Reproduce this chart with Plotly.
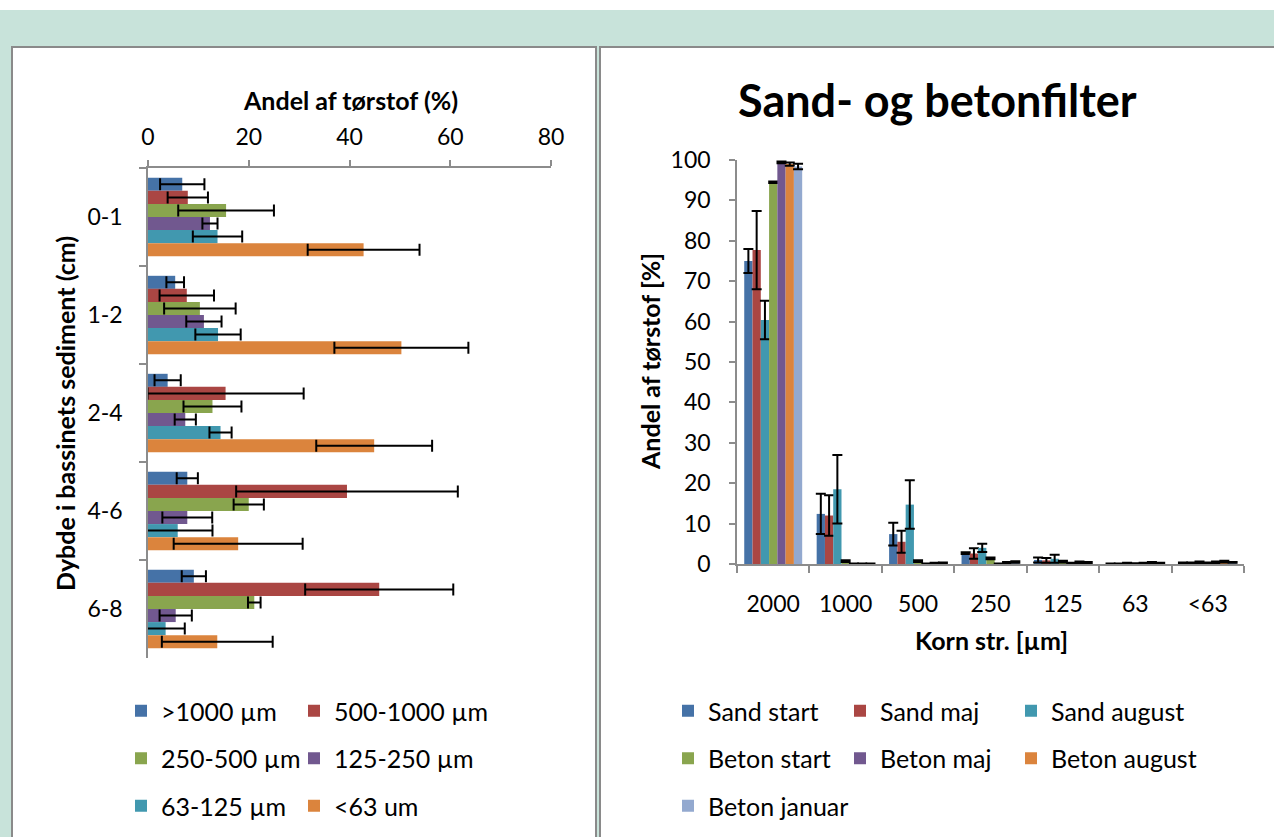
import plotly.graph_objects as go

W, H = 1274, 837

# ---------------- data: left chart (depth profile) ----------------
depths = ["0-1", "1-2", "2-4", "4-6", "6-8"]
size_classes = [">1000 µm", "500-1000 µm", "250-500 µm", "125-250 µm", "63-125 µm", "<63 um"]
v_gt1000 = [6.8, 5.4, 3.9, 7.8, 9.1]
e_gt1000 = [4.4, 1.75, 2.6, 2.1, 2.4]
v_500_1000 = [7.9, 7.7, 15.4, 39.5, 45.9]
e_500_1000 = [4.0, 5.4, 15.5, 22.0, 14.7]
v_250_500 = [15.5, 10.3, 12.8, 20.0, 21.1]
e_250_500 = [9.5, 7.1, 5.75, 3.0, 1.25]
v_125_250 = [12.3, 11.1, 7.4, 7.8, 5.5]
e_125_250 = [1.5, 3.5, 2.1, 4.95, 3.2]
v_63_125 = [13.8, 13.9, 14.4, 5.9, 3.5]
e_63_125 = [4.9, 4.5, 2.2, 6.9, 3.8]
v_lt63 = [42.8, 50.3, 44.9, 17.9, 13.75]
e_lt63 = [11.1, 13.3, 11.5, 12.8, 11.0]
left_x_ticks = [0, 20, 40, 60, 80]

# ---------------- data: right chart (sand & concrete filter) ----------------
grain = ["2000", "1000", "500", "250", "125", "63", "<63"]
series_names = ["Sand start", "Sand maj", "Sand august", "Beton start", "Beton maj", "Beton august", "Beton januar"]
sand_start = [75.0, 12.4, 7.4, 2.7, 1.0, 0.1, 0.3]
sand_start_e = [3.0, 5.0, 2.8, 0.2, 0.6, 0.05, 0.1]
sand_maj = [77.7, 12.0, 5.5, 2.6, 0.9, 0.1, 0.3]
sand_maj_e = [9.7, 5.0, 2.7, 1.3, 0.6, 0.05, 0.1]
sand_aug = [60.4, 18.5, 14.7, 4.0, 1.3, 0.2, 0.4]
sand_aug_e = [4.75, 8.5, 6.0, 1.0, 1.0, 0.1, 0.2]
beton_start = [94.5, 0.7, 0.7, 1.4, 0.6, 0.1, 0.3]
beton_start_e = [0.2, 0.2, 0.2, 0.2, 0.2, 0.1, 0.1]
beton_maj = [99.4, 0.1, 0.1, 0.1, 0.2, 0.2, 0.4]
beton_maj_e = [0.2, 0.05, 0.05, 0.05, 0.1, 0.1, 0.2]
beton_aug = [99.0, 0.1, 0.2, 0.3, 0.4, 0.3, 0.6]
beton_aug_e = [0.4, 0.05, 0.1, 0.2, 0.2, 0.2, 0.2]
beton_jan = [98.4, 0.1, 0.3, 0.5, 0.3, 0.2, 0.4]
beton_jan_e = [0.7, 0.05, 0.1, 0.2, 0.2, 0.1, 0.1]
right_y_ticks = list(range(0, 101, 10))

# ---------------- styling ----------------
FONT = "Lato"
C_BLUE, C_RED, C_GREEN, C_PURPLE, C_TEAL, C_ORANGE, C_LBLUE = (
    "#4572A7", "#AA4643", "#89A54E", "#71588F", "#4198AF", "#DB843D", "#93A9CF")
AX = "#8c8c8c"


def px_x(p):
    return p / W


def px_y(p):
    return 1 - p / H


fig = go.Figure()

left_vals = [v_gt1000, v_500_1000, v_250_500, v_125_250, v_63_125, v_lt63]
left_errs = [e_gt1000, e_500_1000, e_250_500, e_125_250, e_63_125, e_lt63]
left_cols = [C_BLUE, C_RED, C_GREEN, C_PURPLE, C_TEAL, C_ORANGE]
# legend columns: left chart has 2 columns
left_leg = ["legend", "legend2", "legend", "legend2", "legend", "legend2"]
for i, (name, v, e, c, lg) in enumerate(zip(size_classes, left_vals, left_errs, left_cols, left_leg)):
    fig.add_trace(go.Bar(
        y=depths, x=v, orientation="h", name=name, marker=dict(color=c, line=dict(width=0)),
        error_x=dict(type="data", array=e, symmetric=True, color="black", thickness=2, width=6),
        xaxis="x", yaxis="y", legend=lg, legendgroup=f"L{i}"))

right_vals = [sand_start, sand_maj, sand_aug, beton_start, beton_maj, beton_aug, beton_jan]
right_errs = [sand_start_e, sand_maj_e, sand_aug_e, beton_start_e, beton_maj_e, beton_aug_e, beton_jan_e]
right_cols = [C_BLUE, C_RED, C_TEAL, C_GREEN, C_PURPLE, C_ORANGE, C_LBLUE]
# right chart has 3 columns
right_leg = ["legend3", "legend4", "legend5", "legend3", "legend4", "legend5", "legend3"]
for i, (name, v, e, c, lg) in enumerate(zip(series_names, right_vals, right_errs, right_cols, right_leg)):
    fig.add_trace(go.Bar(
        x=grain, y=v, name=name, marker=dict(color=c, line=dict(width=0)),
        error_y=dict(type="data", array=e, symmetric=True, color="black", thickness=2, width=5),
        xaxis="x2", yaxis="y2", legend=lg, legendgroup=f"R{i}"))

tickfont = dict(family=FONT, size=23, color="black")
title_font = dict(family=FONT, size=25, color="black")

LEG_TOP = 712 - 24
legend_common = dict(orientation="v", xanchor="left", yanchor="top", y=px_y(LEG_TOP),
                     font=dict(family=FONT, size=25, color="black"),
                     bgcolor="rgba(0,0,0,0)", traceorder="grouped", tracegroupgap=12,
                     itemclick=False, itemdoubleclick=False)


def ann(text, x, y, font, angle=0):
    return dict(text=text, x=px_x(x), y=px_y(y), xref="paper", yref="paper",
                xanchor="center", yanchor="middle", showarrow=False, textangle=angle,
                font=font)


fig.update_layout(
    width=W, height=H, autosize=False,
    margin=dict(l=0, r=0, t=0, b=0, pad=0, autoexpand=False),
    paper_bgcolor="#C8E3DA", plot_bgcolor="rgba(0,0,0,0)",
    font=dict(family=FONT, color="black"),
    barmode="group",
    bargap=0.2, bargroupgap=0,
    xaxis=dict(domain=[px_x(148), px_x(551)], anchor="y", side="top", range=[0, 80],
               tickvals=left_x_ticks, showgrid=False, zeroline=False, showline=True,
               linecolor=AX, linewidth=1.5, ticks="outside", ticklen=6, tickcolor=AX,
               tickwidth=1.5, tickfont=tickfont, ticklabelstandoff=6, fixedrange=True),
    yaxis=dict(domain=[px_y(658), px_y(168)], anchor="x", type="category",
               autorange="reversed", showgrid=False, zeroline=False, showline=True,
               linecolor=AX, linewidth=1.5, ticks="outside", ticklen=7, tickcolor=AX,
               tickwidth=1.5, tickson="boundaries", tickfont=tickfont,
               ticklabelstandoff=19, fixedrange=True),
    xaxis2=dict(domain=[px_x(737), px_x(1244)], anchor="y2", type="category",
                showgrid=False, zeroline=False, showline=True, linecolor=AX, linewidth=1.5,
                ticks="outside", ticklen=7, tickcolor=AX, tickwidth=1.5,
                tickson="boundaries", tickfont=tickfont, ticklabelstandoff=19, fixedrange=True),
    yaxis2=dict(domain=[px_y(564), px_y(160)], anchor="x2", range=[0, 100],
                tickvals=right_y_ticks, showgrid=False, zeroline=False, showline=True,
                linecolor=AX, linewidth=1.5, ticks="outside", ticklen=6, tickcolor=AX,
                tickwidth=1.5, tickfont=tickfont, ticklabelstandoff=14, fixedrange=True),
    legend=dict(legend_common, x=px_x(121)),
    legend2=dict(legend_common, x=px_x(294)),
    legend3=dict(legend_common, x=px_x(668)),
    legend4=dict(legend_common, x=px_x(840)),
    legend5=dict(legend_common, x=px_x(1011)),
    shapes=[
        dict(type="rect", xref="paper", yref="paper", x0=0, x1=1, y0=px_y(10), y1=1.01,
             fillcolor="white", line=dict(width=0), layer="below"),
        dict(type="rect", xref="paper", yref="paper", x0=px_x(12), x1=px_x(596),
             y0=-0.02, y1=px_y(47), fillcolor="white", line=dict(color="#8a8a8a", width=2),
             layer="below"),
        dict(type="rect", xref="paper", yref="paper", x0=px_x(600), x1=1.02,
             y0=-0.02, y1=px_y(47), fillcolor="white", line=dict(color="#8a8a8a", width=2),
             layer="below"),
    ],
    annotations=[
        ann("<b>Andel af tørstof (%)</b>", 350, 100, title_font),
        ann("<b>Dybde i bassinets sediment (cm)</b>", 65, 414, title_font, -90),
        ann("<b>Sand- og betonfilter</b>", 937, 100, dict(family=FONT, size=45, color="black")),
        ann("<b>Andel af tørstof [%]</b>", 650, 362, title_font, -90),
        ann("<b>Korn str. [µm]</b>", 991, 640, title_font),
    ],
)

fig.write_html("out.html", config=dict(displayModeBar=False))
